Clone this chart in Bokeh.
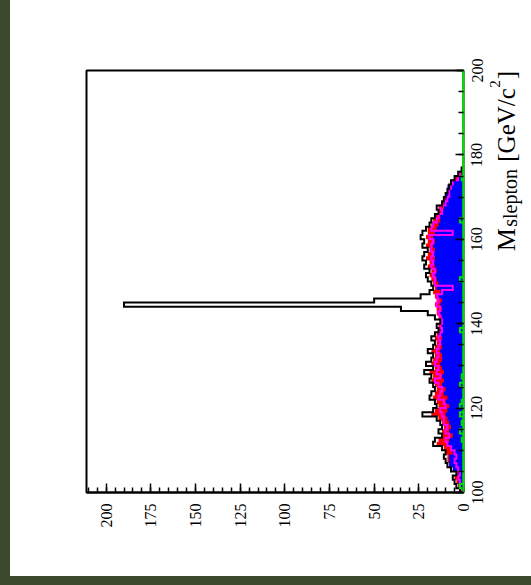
import math
from bokeh.plotting import figure
from bokeh.models import Range1d, LinearAxis, FixedTicker, Spacer
from bokeh.core.properties import value
from bokeh.layouts import row, column
from bokeh.embed import file_html
from bokeh.resources import INLINE

# ---------------- data (1 GeV bins starting at 100) ----------------
mass_start = 100
black_total = [2, 4, 5, 6, 4, 7, 9, 10, 11, 10,
               12, 17, 16, 12, 14, 12, 13, 15, 23, 17,
               15, 16, 19, 18, 16, 17, 19, 18, 22, 17,
               21, 18, 17, 20, 17, 16, 18, 16, 14, 15,
               13, 16, 20, 35, 190, 50, 24, 19, 17, 18,
               20, 21, 19, 22, 21, 23, 22, 20, 23, 22,
               24, 23, 21, 19, 18, 16, 14, 15, 12, 11,
               10, 9, 8, 7, 5, 3, 1]
red_stack = [2, 3, 4, 5, 4, 6, 8, 9, 9, 10,
             11, 15, 14, 12, 12, 11, 12, 14, 18, 16,
             14, 15, 17, 16, 15, 16, 18, 17, 19, 16,
             18, 17, 16, 18, 16, 15, 16, 15, 14, 14,
             13, 14, 15, 15, 16, 15, 16, 17, 16, 17,
             18, 19, 18, 20, 19, 21, 20, 19, 21, 20,
             21, 20, 20, 18, 17, 16, 14, 14, 12, 11,
             9, 9, 8, 7, 5, 3, 1]
blue_bg = [1, 2, 3, 2, 3, 6, 8, 8, 8, 6,
           7, 9, 8, 6, 8, 7, 8, 9, 10, 9,
           8, 10, 9, 11, 10, 12, 11, 12, 11, 12,
           13, 12, 12, 13, 12, 13, 12, 14, 13, 12,
           13, 12, 13, 12, 13, 12, 14, 13, 15, 14,
           15, 16, 15, 16, 17, 16, 17, 16, 17, 16,
           17, 16, 15, 14, 13, 13, 12, 11, 11, 10,
           10, 9, 9, 6, 3, 1, 0]
magenta_line = [1, 2, 2, 3, 2, 3, 4, 5, 4, 5,
                7, 9, 10, 8, 10, 9, 11, 11, 12, 13,
                10, 11, 14, 13, 12, 14, 16, 13, 15, 14,
                16, 15, 14, 15, 14, 13, 14, 13, 12, 13,
                12, 13, 14, 13, 15, 14, 15, 12, 6, 16,
                16, 17, 16, 18, 17, 18, 17, 18, 18, 17,
                19, 6, 18, 17, 15, 14, 12, 13, 10, 9,
                8, 8, 7, 6, 3, 2, 1]
green_bg = [0, 2, 0, 0, 0, 0, 0, 0, 0, 0,
            0, 0, 1, 0, 2, 0, 1, 0, 2, 0,
            2, 1, 0, 0, 0, 2, 0, 1, 0, 0,
            0, 0, 0, 0, 0, 0, 0, 0, 2, 0,
            0, 0, 0, 0, 0, 0, 0, 0, 0, 0,
            2, 0, 0, 0, 0, 0, 0, 0, 0, 0,
            0, 0, 0, 0, 2, 0, 0, 0, 0, 0,
            0, 0, 0, 0, 1, 0, 0, 0, 0, 0,
            0, 0, 0, 0, 0, 0, 0, 0, 0, 0,
            0, 0, 0, 0, 0, 0, 0, 0, 0, 0]
count_ticks = [0, 25, 50, 75, 100, 125, 150, 175, 200]
mass_ticks = [100, 120, 140, 160, 180, 200]
count_max = 211
mass_range = (100, 200)
title_parts = ["M", "slepton", "[GeV/c", "2", "]"]

OLIVE = "#3b4a2c"
FONT = "Liberation Serif"


def step_outline(vals, start):
    xs, ys = [0], [start]
    for i, v in enumerate(vals):
        xs += [v, v]
        ys += [start + i, start + i + 1]
    xs.append(0)
    ys.append(start + len(vals))
    return xs, ys


mass_rng = Range1d(*mass_range)

p = figure(width=462, height=576,
           x_range=Range1d(count_max, 0), y_range=mass_rng,
           output_backend="svg", toolbar_location=None,
           y_axis_location=None,
           min_border_left=76, min_border_right=9,
           min_border_top=70, min_border_bottom=84)
p.grid.visible = False
p.background_fill_color = "white"
p.border_fill_color = "white"
p.outline_line_color = "black"
p.outline_line_width = 2

# stacked filled backgrounds
rx, ry = step_outline(red_stack, mass_start)
p.patch(rx, ry, fill_color="#ff0000", line_color=None)
bfx, bfy = step_outline(blue_bg, mass_start)
p.patch(bfx, bfy, fill_color="#0000ff", line_color=None)

mx, my = step_outline(magenta_line, mass_start)
p.line(mx, my, line_color="#ff00ff", line_width=2, line_join="miter")

bx, by = step_outline(black_total, mass_start)
p.line(bx, by, line_color="black", line_width=2, line_join="miter")

gx, gy = step_outline(green_bg, mass_start)
p.line(gx, gy, line_color="#00dd00", line_width=2, line_join="miter")

# bottom (count) axis
xa = p.xaxis[0]
xa.ticker = FixedTicker(ticks=count_ticks,
                        minor_ticks=list(range(0, count_max, 5)))
xa.major_label_orientation = math.pi / 2
xa.major_label_standoff = 11
xa.major_label_text_font = FONT
xa.major_label_text_font_size = "16px"
xa.major_label_text_color = "black"
xa.major_tick_in = 9
xa.major_tick_out = 0
xa.minor_tick_in = 5
xa.minor_tick_out = 0
xa.major_tick_line_width = 1.5
xa.minor_tick_line_width = 1.5
xa.axis_line_width = 2
xa.axis_line_color = "black"

# right (mass) axis: ticks inside the frame, labels drawn in the side panel
ya = LinearAxis(ticker=FixedTicker(ticks=mass_ticks,
                                   minor_ticks=list(range(100, 201, 5))))
ya.major_label_overrides = {t: "" for t in mass_ticks}
ya.major_label_standoff = 0
ya.major_tick_in = 8
ya.major_tick_out = 0
ya.minor_tick_in = 5
ya.minor_tick_out = 0
ya.major_tick_line_width = 1.5
ya.minor_tick_line_width = 1.5
ya.axis_line_width = 2
ya.axis_line_color = "#00dd00"
p.add_layout(ya, "right")

# side panel (transparent, slightly overlapping): mass tick labels + title
p2 = figure(width=67, height=576,
            x_range=Range1d(482, 531), y_range=mass_rng,
            output_backend="svg", toolbar_location=None,
            x_axis_location=None, y_axis_location="left",
            min_border_left=18, min_border_right=0,
            min_border_top=70, min_border_bottom=84)
p2.margin = (0, 0, 0, -8)
p2.grid.visible = False
p2.outline_line_color = None
p2.background_fill_color = None
p2.border_fill_color = None
la = p2.yaxis[0]
la.ticker = FixedTicker(ticks=mass_ticks, minor_ticks=[])
la.major_label_orientation = "parallel"
la.major_label_standoff = 0
la.major_label_text_font = FONT
la.major_label_text_font_size = "16px"
la.major_label_text_color = "black"
la.major_tick_in = 0
la.major_tick_out = 0
la.minor_tick_in = 0
la.minor_tick_out = 0
la.axis_line_color = None

# title pieces: (text, centre mass, baseline x, font size)
title_y = [159.9, 169.8, 187.1, 196.8, 198.9]
title_x = [506, 509, 506, 494, 506]
title_size = ["26px", "20px", "25px", "15px", "25px"]
for txt, ty, tx, ts in zip(title_parts, title_y, title_x, title_size):
    p2.text(x=[tx], y=[ty], text=[txt], angle=math.pi / 2,
            text_font=value(FONT), text_font_size=value(ts),
            text_align="center", text_baseline="alphabetic",
            text_color="black")

left_strip = Spacer(width=10, height=576, styles={"background-color": OLIVE})
bottom_strip = Spacer(width=531, height=9, styles={"background-color": OLIVE})
layout = column(row(left_strip, p, p2), bottom_strip)

open("out.html", "w").write(file_html(layout, INLINE))
